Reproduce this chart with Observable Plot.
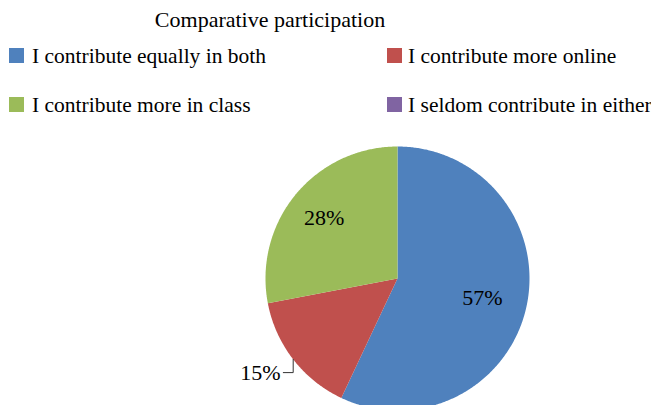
<!DOCTYPE html>
<html><head><meta charset="utf-8">
<script src="https://cdn.jsdelivr.net/npm/d3@7"></script>
<script src="https://cdn.jsdelivr.net/npm/@observablehq/plot@0.6"></script>
<style>
body{margin:0;background:#fff;font-family:'Liberation Serif','Times New Roman',Times,Tinos,'DejaVu Serif',serif;color:#000;}
#wrap{width:651px;height:405px;position:relative;overflow:hidden;}
#header{position:relative;width:651px;height:130px;}
.title{position:absolute;left:0;width:540px;text-align:center;top:9px;font-size:22px;line-height:22px;white-space:nowrap;}
.item{position:absolute;height:20px;display:flex;align-items:center;font-size:21.5px;line-height:20px;white-space:nowrap;}
.sw{width:15px;height:15px;margin-right:8px;flex:none;}
</style>
</head><body>
<div id="wrap"><div id="header"></div><div id="chart"></div></div>
<script>
const chartTitle = "Comparative participation";
const categories = ["I contribute equally in both","I contribute more online","I contribute more in class","I seldom contribute in either"];
const values = [57, 15, 28, 0];
const labels = ["57%", "15%", "28%", "0%"];

const palette = ["#4F81BD","#C0504D","#9BBB59","#8064A2"];

// header: title + legend
const header = document.getElementById("header");
const t = document.createElement("div");
t.className = "title"; t.textContent = chartTitle; header.appendChild(t);
const colX = [9, 387], rowY = [55.5, 104.5];
categories.forEach((c, i) => {
  const it = document.createElement("div");
  it.className = "item";
  it.style.left = colX[i % 2] + "px";
  it.style.top = (rowY[Math.floor(i / 2)] - 10) + "px";
  const sw = document.createElement("span");
  sw.className = "sw"; sw.style.background = palette[i];
  if (i % 2) sw.style.marginRight = "6px";
  const tx = document.createElement("span"); tx.textContent = c;
  it.appendChild(sw); it.appendChild(tx); header.appendChild(it);
});

// pie geometry from data
const data = categories.map((c, i) => ({key: c, value: values[i], label: labels[i]}));
const arcs = d3.pie().sort(null).value(d => d.value)(data).filter(a => a.data.value > 0);
const slicePts = [];
arcs.forEach(a => {
  slicePts.push({key: a.data.key, x: 0, y: 0});
  const n = Math.max(2, Math.ceil((a.endAngle - a.startAngle) / (Math.PI / 360)));
  for (let k = 0; k <= n; k++) {
    const ang = a.startAngle + (a.endAngle - a.startAngle) * k / n;
    slicePts.push({key: a.data.key, x: Math.sin(ang), y: Math.cos(ang)});
  }
});
const inside = [], outside = [], leaders = [];
arcs.forEach(a => {
  const mid = (a.startAngle + a.endAngle) / 2;
  const frac = a.data.value / d3.sum(values);
  if (frac >= 0.2) {
    const r = frac > 0.5 ? 0.66 : 0.72;
    inside.push({label: a.data.label, x: r * Math.sin(mid), y: r * Math.cos(mid)});
  } else {
    const ex = Math.sin(mid), ey = Math.cos(mid);
    const bx = ex, by = ey - 0.1, cx = bx - 0.075;
    leaders.push({key: a.data.key, x: ex, y: ey}, {key: a.data.key, x: bx, y: by}, {key: a.data.key, x: cx, y: by});
    outside.push({label: a.data.label, x: cx - 0.02, y: by});
  }
});

const font = "'Liberation Serif','Times New Roman',Times,Tinos,'DejaVu Serif',serif";
const chart = Plot.plot({
  width: 651, height: 275, margin: 0,
  x: {domain: [-1, 1], range: [265, 529], axis: null},
  y: {domain: [-1, 1], range: [280, 16], axis: null},
  color: {domain: categories, range: palette},
  style: {background: "white", overflow: "hidden", fontFamily: font},
  marks: [
    Plot.line(slicePts, {x: "x", y: "y", z: "key", fill: "key", stroke: null, curve: "linear"}),
    Plot.line(leaders, {x: "x", y: "y", z: "key", stroke: "#333", strokeWidth: 1}),
    Plot.text(inside, {x: "x", y: "y", text: "label", fontSize: 22, fontFamily: font, fill: "black"}),
    Plot.text(outside, {x: "x", y: "y", text: "label", fontSize: 22, fontFamily: font, fill: "black", textAnchor: "end"})
  ]
});
document.getElementById("chart").appendChild(chart);
</script>
</body></html>
